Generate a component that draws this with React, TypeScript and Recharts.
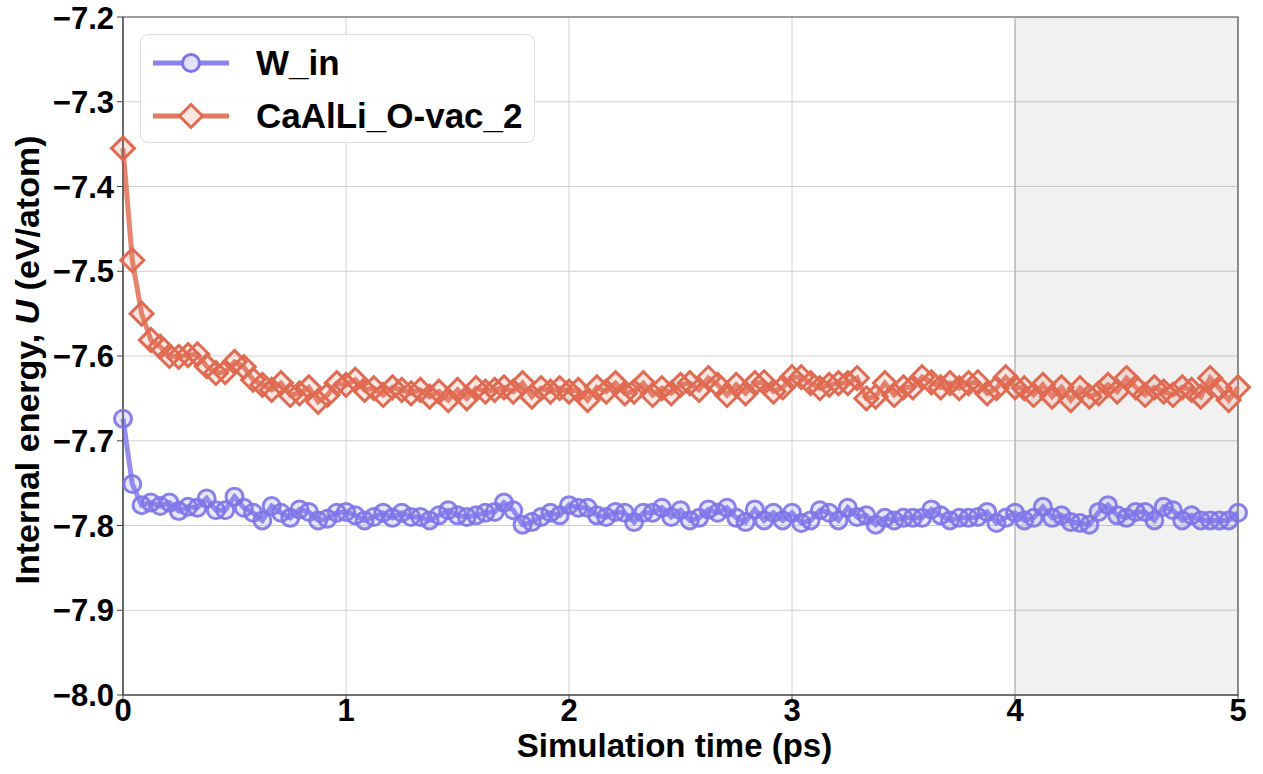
import React from "react";
import {
  LineChart,
  Line,
  XAxis,
  YAxis,
  CartesianGrid,
  ReferenceArea,
  ReferenceLine,
} from "recharts";

// internal energy per atom (eV/atom), sampled every 5/120 ps
const W_IN = [
  -7.674, -7.751, -7.776, -7.773, -7.777, -7.773, -7.783, -7.778, -7.779, -7.768,
  -7.782, -7.782, -7.766, -7.779, -7.785, -7.794, -7.777, -7.785, -7.791, -7.781,
  -7.784, -7.794, -7.792, -7.785, -7.784, -7.788, -7.794, -7.79, -7.785, -7.791,
  -7.785, -7.79, -7.79, -7.794, -7.788, -7.782, -7.788, -7.79, -7.788, -7.785,
  -7.784, -7.773, -7.782, -7.799, -7.796, -7.79, -7.785, -7.788, -7.776, -7.779,
  -7.779, -7.788, -7.79, -7.784, -7.785, -7.796, -7.785, -7.785, -7.779, -7.79,
  -7.782, -7.794, -7.791, -7.781, -7.785, -7.779, -7.791, -7.796, -7.781, -7.794,
  -7.785, -7.794, -7.785, -7.797, -7.794, -7.782, -7.785, -7.794, -7.779, -7.79,
  -7.788, -7.799, -7.791, -7.794, -7.791, -7.791, -7.791, -7.781, -7.788, -7.794,
  -7.791, -7.791, -7.79, -7.784, -7.797, -7.791, -7.785, -7.794, -7.791, -7.778,
  -7.791, -7.788, -7.796, -7.797, -7.799, -7.784, -7.776, -7.788, -7.791, -7.784,
  -7.784, -7.794, -7.778, -7.782, -7.794, -7.788, -7.794, -7.794, -7.794, -7.794,
  -7.785,
];

const O_VAC_2 = [
  -7.355, -7.487, -7.55, -7.581, -7.589, -7.6, -7.601, -7.599, -7.598, -7.612,
  -7.62, -7.619, -7.607, -7.613, -7.628, -7.634, -7.64, -7.632, -7.646, -7.644,
  -7.637, -7.654, -7.646, -7.632, -7.634, -7.628, -7.64, -7.638, -7.646, -7.637,
  -7.64, -7.644, -7.64, -7.648, -7.642, -7.652, -7.64, -7.65, -7.638, -7.642,
  -7.64, -7.637, -7.642, -7.632, -7.648, -7.638, -7.642, -7.638, -7.642, -7.64,
  -7.652, -7.637, -7.642, -7.632, -7.644, -7.642, -7.632, -7.646, -7.638, -7.644,
  -7.634, -7.632, -7.64, -7.626, -7.634, -7.646, -7.634, -7.644, -7.632, -7.631,
  -7.642, -7.637, -7.625, -7.625, -7.632, -7.638, -7.634, -7.632, -7.632, -7.626,
  -7.65, -7.648, -7.632, -7.646, -7.637, -7.637, -7.625, -7.631, -7.637, -7.632,
  -7.638, -7.632, -7.631, -7.644, -7.638, -7.625, -7.637, -7.638, -7.646, -7.634,
  -7.648, -7.637, -7.652, -7.638, -7.648, -7.644, -7.634, -7.642, -7.626, -7.637,
  -7.646, -7.637, -7.642, -7.646, -7.637, -7.64, -7.648, -7.626, -7.638, -7.652,
  -7.637,
];

const SERIES_NAMES = ["W_in", "CaAlLi_O-vac_2"];
const X_TICKS = [0, 1, 2, 3, 4, 5];
const Y_TICKS = [-8.0, -7.9, -7.8, -7.7, -7.6, -7.5, -7.4, -7.3, -7.2];
const SHADE = [4, 5];

const data = W_IN.map((w, i) => ({
  t: (i * 5) / 120,
  w,
  o: O_VAC_2[i],
}));

const FONT = "'Liberation Sans', Arial, Helvetica, sans-serif";
const BLUE = "#7d74e8";
const BLUE_LINE = "#8a82ec";
const ORANGE = "#e06a52";
const ORANGE_LINE = "#e27860";

const fmtY = (v: number) => v.toFixed(1).replace("-", "\u2212");

const Diamond = (props: any) => {
  const { cx, cy, index } = props;
  if (cx == null || cy == null) return <g key={`d-${index}`} />;
  const s = 11.5;
  return (
    <path
      key={`d-${index}`}
      d={`M${cx},${cy - s}L${cx + s},${cy}L${cx},${cy + s}L${cx - s},${cy}Z`}
      fill={ORANGE}
      fillOpacity={0.16}
      stroke={ORANGE}
      strokeWidth={3}
    />
  );
};

const YLabel = (props: any) => {
  const vb = props.viewBox || { x: 0, y: 0, height: 0 };
  const cx = 39;
  const cy = vb.y + vb.height / 2 + 4;
  return (
    <text
      x={cx}
      y={cy}
      transform={`rotate(-90 ${cx} ${cy})`}
      textAnchor="middle"
      fontSize={34}
      fontWeight="bold"
      fontFamily={FONT}
      fill="#000"
    >
      Internal energy, <tspan fontStyle="italic">U</tspan> (eV/atom)
    </text>
  );
};

const XLabel = (props: any) => {
  const vb = props.viewBox || { x: 0, y: 0, width: 0 };
  return (
    <text
      x={vb.x + vb.width / 2 - 6}
      y={757}
      textAnchor="middle"
      fontSize={33}
      fontWeight="bold"
      fontFamily={FONT}
      fill="#000"
    >
      Simulation time (ps)
    </text>
  );
};

function LegendBox() {
  const row = (i: number) => (
    <div key={i} style={{ display: "flex", alignItems: "center", height: 53 }}>
      <svg width={90} height={32} style={{ marginLeft: 12, marginRight: 13 }}>
        <line x1={0} y1={16} x2={76} y2={16} stroke={i === 0 ? BLUE_LINE : ORANGE_LINE} strokeWidth={5} />
        {i === 0 ? (
          <circle cx={38} cy={16} r={8.5} fill="#e4e2fb" stroke={BLUE} strokeWidth={3} />
        ) : (
          <path d="M38,4.5L49.5,16L38,27.5L26.5,16Z" fill="#fbe6e1" stroke={ORANGE} strokeWidth={3} />
        )}
      </svg>
      <span style={{ fontFamily: FONT, fontWeight: "bold", fontSize: 35, color: "#000" }}>
        {SERIES_NAMES[i]}
      </span>
    </div>
  );
  return (
    <div
      style={{
        position: "absolute",
        left: 140,
        top: 34,
        width: 395,
        height: 109,
        boxSizing: "border-box",
        border: "1px solid #dcdcdc",
        borderRadius: 8,
        background: "rgba(255,255,255,0.85)",
        paddingTop: 1,
      }}
    >
      {row(0)}
      {row(1)}
    </div>
  );
}

export default function App() {
  return (
    <div style={{ position: "absolute", left: 0, top: 0, width: 1263, height: 774, background: "#fff" }}>
      <LineChart
        width={1263}
        height={774}
        data={data}
        margin={{ top: 17, right: 25, bottom: 0, left: 0 }}
      >
        <CartesianGrid stroke="#d0d0d0" strokeWidth={1} />
        <ReferenceArea
          x1={SHADE[0]}
          x2={SHADE[1]}
          y1={-8}
          y2={-7.2}
          fill="#000"
          fillOpacity={0.055}
          stroke="none"
        />
        <ReferenceLine x={SHADE[0]} stroke="#b0b0b0" strokeWidth={1} />
        <XAxis
          dataKey="t"
          type="number"
          domain={[0, 5]}
          ticks={X_TICKS}
          height={79}
          tickSize={6}
          tickMargin={-2}
          tick={{ fontSize: 31, fontWeight: "bold", fill: "#000", fontFamily: FONT }}
          axisLine={{ stroke: "#444" }}
          tickLine={{ stroke: "#444" }}
          label={{ content: XLabel }}
        />
        <YAxis
          type="number"
          domain={[-8, -7.2]}
          ticks={Y_TICKS}
          width={123}
          tickSize={6}
          tickMargin={3}
          tickFormatter={fmtY}
          tick={{ fontSize: 31, fontWeight: "bold", fill: "#000", fontFamily: FONT }}
          axisLine={{ stroke: "#444" }}
          tickLine={{ stroke: "#444" }}
          allowDataOverflow
          label={{ content: YLabel }}
        />
        <ReferenceArea x1={0} x2={5} y1={-8} y2={-7.2} fill="none" stroke="#555" strokeWidth={1.2} />
        <Line
          type="linear"
          dataKey="w"
          name={SERIES_NAMES[0]}
          stroke={BLUE_LINE}
          strokeWidth={5}
          strokeOpacity={0.9}
          dot={{ r: 8.5, stroke: BLUE, strokeWidth: 3, fill: BLUE, fillOpacity: 0.18 }}
          isAnimationActive={false}
        />
        <Line
          type="linear"
          dataKey="o"
          name={SERIES_NAMES[1]}
          stroke={ORANGE_LINE}
          strokeWidth={5}
          strokeOpacity={0.9}
          dot={Diamond}
          isAnimationActive={false}
        />
      </LineChart>
      <LegendBox />
    </div>
  );
}
